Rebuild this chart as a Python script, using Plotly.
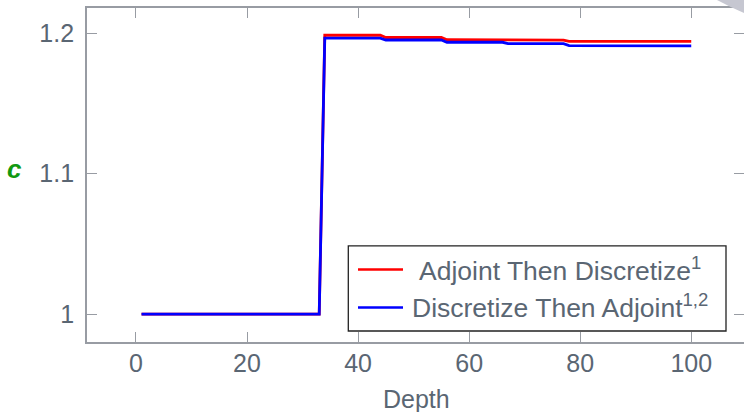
import plotly.graph_objects as go

# Data
depth_red = [1, 33, 34, 44, 45, 55, 56, 66, 67, 77, 78, 88, 89, 100]
c_red = [1.0, 1.0, 1.1986, 1.1986, 1.1970, 1.1970, 1.1954, 1.1954, 1.1951, 1.1951, 1.1943, 1.1943, 1.1942, 1.1942]
depth_blue = [1, 33, 34, 44, 45, 55, 56, 66, 67, 77, 78, 88, 89, 100]
c_blue = [1.0, 1.0, 1.1966, 1.1966, 1.1952, 1.1952, 1.1936, 1.1936, 1.1926, 1.1926, 1.1912, 1.1912, 1.1910, 1.1910]
x_ticks = [0, 20, 40, 60, 80, 100]
y_ticks = [1.0, 1.1, 1.2]
y_tick_text = ["1", "1.1", "1.2"]
legend_names = ["Adjoint Then Discretize<sup>1</sup>", "Discretize Then Adjoint<sup>1,2</sup>"]
colors = ["#ff0000", "#0000ff"]

W, H = 744, 412
L, R, T, B = 87, 0, 8, 70.3
pw, ph = W - L - R, H - T - B

def px(x):
    return (x - L) / pw

def py(y):
    return (H - B - y) / ph

fig = go.Figure()
fig.add_trace(go.Scatter(x=depth_red, y=c_red, mode="lines",
                         line=dict(color=colors[0], width=2.8), name=legend_names[0]))
fig.add_trace(go.Scatter(x=depth_blue, y=c_blue, mode="lines",
                         line=dict(color=colors[1], width=2.8), name=legend_names[1]))

axis_color = "#989ca3"
text_color = "#5a6673"
font_family = "Liberation Sans, Arial, sans-serif"

fig.update_layout(
    width=W, height=H,
    margin=dict(l=L, r=R, t=T, b=B),
    paper_bgcolor="white", plot_bgcolor="white",
    showlegend=False,
    font=dict(family=font_family, size=25, color=text_color),
    xaxis=dict(range=[-8.82, 109.5], tickvals=x_ticks, ticks="inside", ticklen=10,
               tickcolor=axis_color, tickwidth=1.3, showline=True, linecolor=axis_color,
               linewidth=1.8, mirror="ticks", showgrid=False, zeroline=False, automargin=False,
               tickfont=dict(size=25, color=text_color), ticklabelstandoff=-2),
    yaxis=dict(range=[0.9802, 1.2180], tickvals=y_ticks, ticktext=y_tick_text, ticks="inside",
               ticklen=10, tickcolor=axis_color, tickwidth=1.3, showline=True,
               linecolor=axis_color, linewidth=1.8, mirror="ticks", showgrid=False,
               zeroline=False, automargin=False, tickfont=dict(size=25, color=text_color),
               ticklabelstandoff=6),
)

# x-axis title
fig.add_annotation(x=px(416.5), y=py(398.5), xref="paper", yref="paper", text="Depth",
                   showarrow=False, font=dict(size=25, color=text_color, family=font_family),
                   xanchor="center", yanchor="middle")

# y-axis label "c"
fig.add_annotation(x=px(14.5), y=py(169), xref="paper", yref="paper", text="<b><i>c</i></b>",
                   showarrow=False, font=dict(size=26, color="#119911", family=font_family),
                   xanchor="center", yanchor="middle")

# Legend box drawn manually
shapes = [
    dict(type="rect", xref="paper", yref="paper", x0=px(348.3), x1=px(726), y0=py(330.7), y1=py(245.7),
         line=dict(color="#222222", width=1.3), fillcolor="white", layer="above"),
]
leg_y = [269.3, 307.3]
text_y = [268.5, 305.5]
for i in range(2):
    shapes.append(dict(type="line", xref="paper", yref="paper", x0=px(358), x1=px(403),
                       y0=py(leg_y[i]), y1=py(leg_y[i]), line=dict(color=colors[i], width=2.6),
                       layer="above"))
    fig.add_annotation(x=px(560), y=py(text_y[i]), xref="paper", yref="paper", text=legend_names[i],
                       showarrow=False, font=dict(size=26.5, color=text_color, family=font_family),
                       xanchor="center", yanchor="middle")

# gray corner artifact
shapes.append(dict(type="path", xref="paper", yref="paper",
                   path=f"M {px(717)} {py(0)} L {px(744)} {py(0)} L {px(744)} {py(13)} Q {px(730)} {py(7)} {px(717)} {py(0)} Z",
                   fillcolor="#c6c7d1", line=dict(width=0), layer="above"))
fig.update_layout(shapes=shapes)

fig.write_html("out.html", config={"displayModeBar": False},
               post_script="document.body.style.margin='0';document.body.style.overflow='hidden';")
